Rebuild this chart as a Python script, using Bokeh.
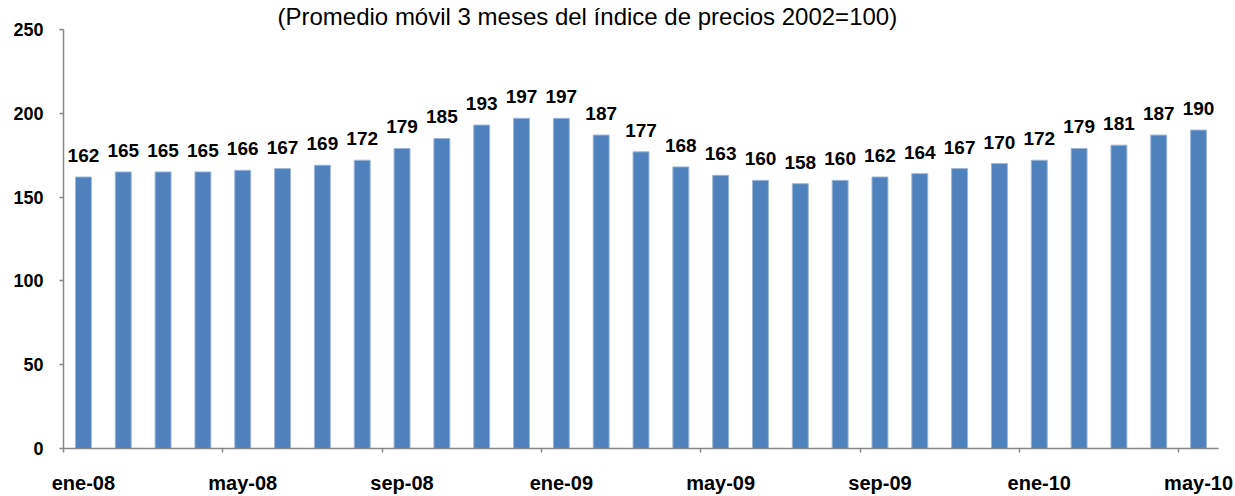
import numpy as np
from bokeh.plotting import figure
from bokeh.models import ColumnDataSource, LabelSet, FixedTicker, Range1d
from bokeh.core.properties import value
from bokeh.embed import file_html
from bokeh.resources import INLINE

months = ["ene-08", "feb-08", "mar-08", "abr-08", "may-08", "jun-08", "jul-08", "ago-08",
          "sep-08", "oct-08", "nov-08", "dic-08", "ene-09", "feb-09", "mar-09", "abr-09",
          "may-09", "jun-09", "jul-09", "ago-09", "sep-09", "oct-09", "nov-09", "dic-09",
          "ene-10", "feb-10", "mar-10", "abr-10", "may-10"]
values = [162, 165, 165, 165, 166, 167, 169, 172, 179, 185, 193, 197, 197, 187, 177, 168,
          163, 160, 158, 160, 162, 164, 167, 170, 172, 179, 181, 187, 190]
y_ticks = [0, 50, 100, 150, 200, 250]
title_text = "(Promedio móvil 3 meses del índice de precios 2002=100)"

n = len(months)
pos = np.arange(n) + 0.5
src = ColumnDataSource(dict(x=pos, top=values, label=[str(v) for v in values]))

FONT = "Liberation Sans"
AXIS_COLOR = "#868686"

p = figure(width=1235, height=496, output_backend="svg", toolbar_location=None,
           x_range=Range1d(0, n), y_range=Range1d(0, 250),
           min_border_left=63, min_border_right=17, min_border_top=21, min_border_bottom=47,
           title=title_text)
p.title.align = "left"
p.title.offset = 214
p.title.standoff = 0
p.title.text_font = FONT
p.title.text_font_style = "normal"
p.title.text_font_size = "24px"
p.title.text_color = "#000000"

p.outline_line_color = None
p.xgrid.grid_line_color = None
p.ygrid.grid_line_color = None

p.vbar(x="x", top="top", width=0.4, bottom=0, source=src,
       fill_color="#4F81BD", line_color="#9db6d8", line_width=1)

labels = LabelSet(x="x", y="top", text="label", source=src, text_align="center",
                  text_baseline="alphabetic", y_offset=15,
                  text_font=value(FONT), text_font_style="bold", text_font_size="19px",
                  text_color="#000000")
p.add_layout(labels)

# x axis: labels at category centers every 4 months, tick marks at boundaries
label_idx = list(range(0, n, 4))
xa = p.xaxis[0]
xa.ticker = FixedTicker(ticks=[pos[i] for i in label_idx],
                        minor_ticks=[float(i) for i in label_idx])
xa.major_label_overrides = {float(pos[i]): months[i] for i in label_idx}
xa.major_tick_line_color = None
xa.major_tick_out = 4
xa.major_tick_in = 0
xa.minor_tick_line_color = AXIS_COLOR
xa.minor_tick_out = 4
xa.minor_tick_in = 0
xa.minor_tick_line_width = 1.5
xa.axis_line_color = AXIS_COLOR
xa.axis_line_width = 1.5
xa.major_label_text_font = FONT
xa.major_label_text_font_style = "bold"
xa.major_label_text_font_size = "20px"
xa.major_label_text_color = "#000000"
xa.major_label_standoff = 19

ya = p.yaxis[0]
ya.ticker = FixedTicker(ticks=y_ticks)
ya.minor_tick_line_color = None
ya.major_tick_out = 4
ya.major_tick_in = 0
ya.major_tick_line_color = AXIS_COLOR
ya.major_tick_line_width = 1.5
ya.axis_line_color = AXIS_COLOR
ya.axis_line_width = 1.5
ya.major_label_text_font = FONT
ya.major_label_text_font_style = "bold"
ya.major_label_text_font_size = "18px"
ya.major_label_text_color = "#000000"
ya.major_label_standoff = 16

open("out.html", "w").write(file_html(p, INLINE))
